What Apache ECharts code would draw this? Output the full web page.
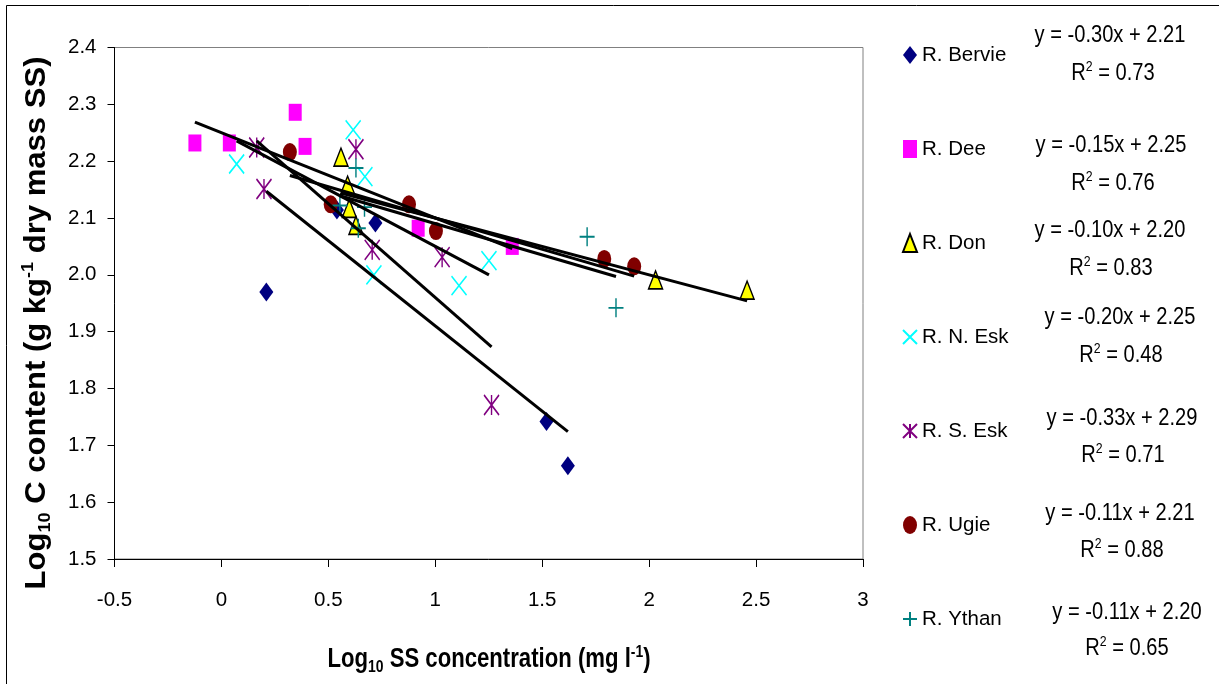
<!DOCTYPE html>
<html>
<head>
<meta charset="utf-8">
<script src="https://cdn.jsdelivr.net/npm/echarts@6/dist/echarts.min.js"></script>
<style>
html,body{margin:0;padding:0;background:#fff;}
#chart{width:1219px;height:684px;}
</style>
</head>
<body>
<div id="chart"></div>
<script>
// ---------- DATA ----------
const seriesNames = ['R. Bervie', 'R. Dee', 'R. Don', 'R. N. Esk', 'R. S. Esk', 'R. Ugie', 'R. Ythan'];

const bervieX = [0.21, 0.54, 0.72, 1.52, 1.62];
const bervieY = [1.970, 2.114, 2.091, 1.742, 1.664];

const deeX = [-0.124, 0.037, 0.345, 0.391, 0.920, 1.360];
const deeY = [2.232, 2.232, 2.286, 2.226, 2.082, 2.050];

const donX = [0.559, 0.590, 0.598, 0.629, 2.030, 2.458];
const donY = [2.207, 2.158, 2.117, 2.087, 1.991, 1.973];

const nEskX = [0.071, 0.616, 0.671, 0.713, 1.111, 1.251];
const nEskY = [2.195, 2.255, 2.173, 2.000, 1.981, 2.025];

const sEskX = [0.165, 0.199, 0.629, 0.705, 1.032, 1.263];
const sEskY = [2.224, 2.151, 2.221, 2.044, 2.031, 1.771];

const ugieX = [0.320, 0.511, 0.877, 1.003, 1.790, 1.930];
const ugieY = [2.216, 2.124, 2.124, 2.077, 2.028, 2.015];

const ythanX = [0.554, 0.629, 0.640, 0.669, 1.710, 1.845];
const ythanY = [2.122, 2.188, 2.082, 2.119, 2.067, 1.942];

// linear trend lines (from the chart's equations)
const slopes = [-0.30, -0.15, -0.10, -0.20, -0.33, -0.11, -0.11];
const intercepts = [2.21, 2.25, 2.20, 2.25, 2.29, 2.21, 2.20];
const eqTexts = ['y = -0.30x + 2.21', 'y = -0.15x + 2.25', 'y = -0.10x + 2.20', 'y = -0.20x + 2.25',
                 'y = -0.33x + 2.29', 'y = -0.11x + 2.21', 'y = -0.11x + 2.20'];
const r2Texts = ['0.73', '0.76', '0.83', '0.48', '0.71', '0.88', '0.65'];

const xTicks = { min: -0.5, max: 3, step: 0.5 };
const yTicks = { min: 1.5, max: 2.4, step: 0.1 };

// ---------- FONT ----------
function fontAvailable(name) {
  const c = document.createElement('canvas').getContext('2d');
  const t = 'R. Bervie 0123456789 y = -0.30x';
  c.font = '40px monospace';
  const w1 = c.measureText(t).width;
  c.font = '40px "' + name + '", monospace';
  const w2 = c.measureText(t).width;
  return Math.abs(w1 - w2) > 0.5;
}
const NARROW = fontAvailable('Liberation Sans Narrow');
const FF = NARROW ? '"Liberation Sans Narrow", "Liberation Sans", Arial, sans-serif' : '"Liberation Sans", Arial, sans-serif';
const S = NARROW ? 1 : 0.82;     // size factor for component text
const SX = NARROW ? 1 : 0.82;    // horizontal squeeze for free text
const FFW = '"Liberation Sans", Arial, sans-serif';

// ---------- STYLE ----------
const xs = [bervieX, deeX, donX, nEskX, sEskX, ugieX, ythanX];
const ys = [bervieY, deeY, donY, nEskY, sEskY, ugieY, ythanY];
const symbols = [
  'diamond',
  'rect',
  'triangle',
  'path://M0,0L10,10M10,0L0,10',
  'path://M0,0L10,10M10,0L0,10M5,0L5,10',
  'path://M0,9A7,9 0 1,1 14,9A7,9 0 1,1 0,9Z',
  'path://M0,5L10,5M5,0L5,10'
];
const sizes = [[14, 19], [13, 17], [14, 18], [15, 19], [15, 20], [14, 18], [15, 19]];
const colors = ['#000080', '#FF00FF', '#FFFF00', '#00FFFF', '#800080', '#800000', '#008080'];
const borders = [
  { borderWidth: 0 },
  { borderWidth: 0 },
  { borderColor: '#000', borderWidth: 1.5 },
  { borderColor: '#00FFFF', borderWidth: 1.6 },
  { borderColor: '#800080', borderWidth: 1.6 },
  { borderWidth: 0 },
  { borderColor: '#008080', borderWidth: 1.6 }
];

const series = [];
seriesNames.forEach((n, i) => {
  series.push({
    name: n,
    type: 'scatter',
    symbol: symbols[i],
    symbolSize: sizes[i],
    z: 2,
    itemStyle: Object.assign({ color: colors[i], opacity: 1 }, borders[i]),
    emphasis: { disabled: true },
    data: xs[i].map((x, k) => [x, ys[i][k]])
  });
});
seriesNames.forEach((n, i) => {
  const x0 = Math.min.apply(null, xs[i]);
  const x1 = Math.max.apply(null, xs[i]);
  series.push({
    name: 'trend ' + n,
    type: 'line',
    z: 3,
    silent: true,
    showSymbol: false,
    symbol: 'none',
    lineStyle: { color: '#000', width: 3 },
    data: [[x0, slopes[i] * x0 + intercepts[i]], [x1, slopes[i] * x1 + intercepts[i]]]
  });
});

// equation positions (layout)
const eqPos = [[1110, 35], [1111, 145], [1110, 230], [1120, 317], [1122, 418], [1120, 513], [1127, 612]];
const r2Pos = [[1113, 73], [1113, 183], [1111, 268], [1121, 355], [1123, 455], [1122, 550], [1127, 648]];

const graphics = [
  { type: 'rect', silent: true, z: 0, shape: { x: 6.5, y: 5.5, width: 1400, height: 900 },
    style: { fill: 'none', stroke: '#000', lineWidth: 1 } },
  { type: 'text', x: 37, y: 323, rotation: Math.PI / 2, scaleX: 1.07, silent: true,
    style: {
      text: 'Log{sub|10} C content (g kg{sup|-1} dry mass SS)',
      fontSize: 29, fontWeight: 'bold', fontFamily: FFW, fill: '#000',
      align: 'center', verticalAlign: 'middle', lineHeight: 34,
      rich: {
        sub: { fontSize: 17, fontWeight: 'bold', fontFamily: FFW, lineHeight: 17, verticalAlign: 'bottom' },
        sup: { fontSize: 17, fontWeight: 'bold', fontFamily: FFW, lineHeight: 17, verticalAlign: 'top' }
      }
    } },
  { type: 'text', x: 489, y: 660, scaleX: SX, silent: true,
    style: {
      text: 'Log{sub|10} SS concentration (mg l{sup|-1})',
      fontSize: 27, fontWeight: 'bold', fontFamily: FF, fill: '#000',
      align: 'center', verticalAlign: 'middle', lineHeight: 32,
      rich: {
        sub: { fontSize: 17, fontWeight: 'bold', fontFamily: FF, lineHeight: 17, verticalAlign: 'bottom' },
        sup: { fontSize: 17, fontWeight: 'bold', fontFamily: FF, lineHeight: 17, verticalAlign: 'top' }
      }
    } }
];
eqTexts.forEach((t, i) => {
  graphics.push({ type: 'text', x: eqPos[i][0], y: eqPos[i][1], scaleX: SX, silent: true,
    style: { text: t, fontSize: 24.5, fontFamily: FF, fill: '#000', align: 'center', verticalAlign: 'middle' } });
  graphics.push({ type: 'text', x: r2Pos[i][0], y: r2Pos[i][1], scaleX: SX, silent: true,
    style: {
      text: '{a|R}{b|2}{a| = ' + r2Texts[i] + '}',
      align: 'center', verticalAlign: 'middle',
      rich: {
        a: { fontSize: 24.5, fontFamily: FF, fill: '#000', lineHeight: 28 },
        b: { fontSize: 15, fontFamily: FF, fill: '#000', lineHeight: 15, verticalAlign: 'top' }
      }
    } });
});

const chart = echarts.init(document.getElementById('chart'), null, { renderer: 'canvas' });
chart.setOption({
  backgroundColor: '#fff',
  animation: false,
  grid: { left: 114.5, right: 356, top: 47.5, bottom: 125, show: true, borderColor: '#808080', borderWidth: 1, containLabel: false },
  xAxis: {
    type: 'value', min: xTicks.min, max: xTicks.max, interval: xTicks.step,
    axisLine: { show: true, onZero: false, lineStyle: { color: '#000', width: 1 } },
    axisTick: { show: true, inside: false, length: 8, lineStyle: { color: '#000' } },
    axisLabel: { margin: 31, fontSize: 25 * S, fontFamily: FF, color: '#000' },
    splitLine: { show: false }
  },
  yAxis: {
    type: 'value', min: yTicks.min, max: yTicks.max, interval: yTicks.step,
    axisLine: { show: true, onZero: false, lineStyle: { color: '#000', width: 1 } },
    axisTick: { show: true, inside: false, length: 7, lineStyle: { color: '#000' } },
    axisLabel: { margin: 18, fontSize: 25 * S, fontFamily: FF, color: '#000', formatter: v => v.toFixed(1) },
    splitLine: { show: false }
  },
  legend: {
    orient: 'vertical', left: 902, top: 43, padding: 0,
    itemWidth: 14, itemHeight: 18, itemGap: 70,
    data: seriesNames,
    selectedMode: false,
    textStyle: { fontSize: 25 * S, fontFamily: FF, color: '#000', lineHeight: 24 }
  },
  graphic: graphics,
  series: series
});
</script>
</body>
</html>
